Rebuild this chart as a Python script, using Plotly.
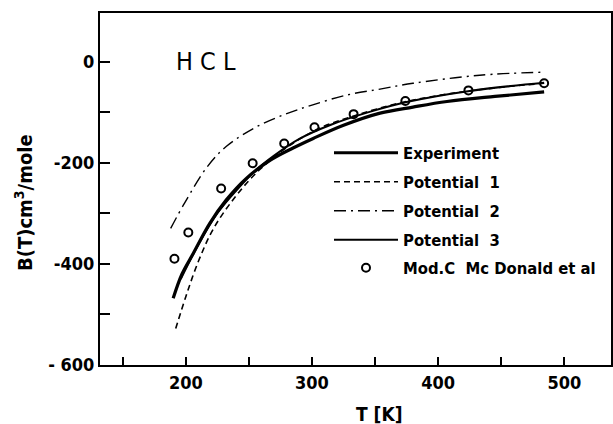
import plotly.graph_objects as go

# ---- data ----
exp_T = [190, 197, 206, 219, 232, 248, 267, 285, 301, 325, 354, 380, 407, 445, 484]
exp_B = [-468, -420, -379, -320, -274, -231, -195, -171, -152, -126, -102, -90, -79, -69, -60]

pot1_T = [192, 200, 210, 222, 240, 258, 280, 305, 335, 375, 425, 484]
pot1_B = [-528, -465, -395, -330, -265, -215, -170, -133, -106, -79, -58, -43]

pot2_T = [188, 199, 217, 232, 256, 279, 300, 328, 355, 380, 433, 484]
pot2_B = [-330, -280, -208, -168, -129, -104, -86, -66, -54, -43, -27, -21]

pot3_T = [196, 210, 225, 240, 255, 270, 290, 315, 345, 375, 425, 484]
pot3_B = [-430, -362, -300, -255, -216, -186, -153, -125, -100, -80, -58, -42]

mod_T = [191, 202, 228, 253, 278, 302, 333, 374, 424, 484]
mod_B = [-390, -338, -251, -201, -162, -130, -104, -78, -57, -43]

x_tickvals = [150, 200, 250, 300, 350, 400, 450, 500]
x_ticktext = ["", "200", "", "300", "", "400", "", "500"]
y_tickvals = [-600, -500, -400, -300, -200, -100, 0]
y_ticktext = ["- 600", "", "-400", "", "-200", "", "0"]

FONT = "DejaVu Sans Condensed, DejaVu Sans, sans-serif"

# plot-area geometry in pixels (used to place legends / annotations)
L, R, T, B = 100, 611, 13, 365
W, H = 613, 424


def px_x(px):
    return (px - L) / (R - L)


def px_y(py):
    return (B - py) / (B - T)


fig = go.Figure()
fig.add_trace(go.Scatter(x=exp_T, y=exp_B, mode="lines", name="Experiment", legend="legend",
                         line=dict(color="black", width=3.2, shape="spline")))
fig.add_trace(go.Scatter(x=pot1_T, y=pot1_B, mode="lines", name="Potential  1", legend="legend2",
                         line=dict(color="black", width=1.6, dash="6px,4px", shape="spline")))
fig.add_trace(go.Scatter(x=pot2_T, y=pot2_B, mode="lines", name="Potential  2", legend="legend3",
                         line=dict(color="black", width=1.4, dash="12px,5px,2px,5px", shape="spline")))
fig.add_trace(go.Scatter(x=pot3_T, y=pot3_B, mode="lines", name="Potential  3", legend="legend4",
                         line=dict(color="black", width=2, shape="spline")))
fig.add_trace(go.Scatter(x=mod_T, y=mod_B, mode="markers", name="Mod.C  Mc Donald et al",
                         legend="legend5",
                         marker=dict(symbol="circle-open", size=8, color="black",
                                     line=dict(width=2, color="black"))))

tickfont = dict(family=FONT, size=18, color="black", weight="bold")
axis_common = dict(showline=True, linecolor="black", linewidth=2, mirror=True,
                   ticks="inside", tickcolor="black", tickwidth=2, showgrid=False,
                   zeroline=False, tickfont=tickfont)

fig.update_xaxes(range=[132, 537], tickmode="array", tickvals=x_tickvals,
                 ticktext=x_ticktext, ticklen=8, **axis_common)
fig.update_yaxes(range=[-600, 96], tickmode="array", tickvals=y_tickvals,
                 ticktext=y_ticktext, ticklen=10, **axis_common)

legend_rows = [153, 182, 211, 240, 268]
leg_font = dict(family=FONT, size=16.5, color="black", weight="bold")
legends = {}
for i, row in enumerate(legend_rows):
    key = "legend" if i == 0 else f"legend{i + 1}"
    legends[key] = dict(x=px_x(329), y=px_y(row), xanchor="left", yanchor="middle",
                        bgcolor="rgba(0,0,0,0)", borderwidth=0, font=leg_font,
                        itemwidth=64, tracegroupgap=0)

fig.update_layout(
    width=W, height=H,
    margin=dict(l=L, r=W - R, t=T, b=H - B, autoexpand=False),
    paper_bgcolor="white", plot_bgcolor="white",
    font=dict(family=FONT, color="black", size=18),
    showlegend=True,
    annotations=[
        dict(text="T [K]", x=px_x(379), y=px_y(414), xref="paper", yref="paper",
             xanchor="center", yanchor="middle",
             showarrow=False, font=dict(family=FONT, size=19, weight="bold")),
        dict(text="B(T)cm<sup>3</sup>/mole", x=px_x(24), y=px_y(203), xref="paper", yref="paper",
             xanchor="center", yanchor="middle",
             showarrow=False, textangle=-90, font=dict(family=FONT, size=20, weight="bold")),
        dict(text="H C L", x=px_x(206), y=px_y(62), xref="paper", yref="paper",
             xanchor="center", yanchor="middle",
             showarrow=False, font=dict(family=FONT, size=25)),
    ],
    **legends,
)

fig.write_html("out.html")
